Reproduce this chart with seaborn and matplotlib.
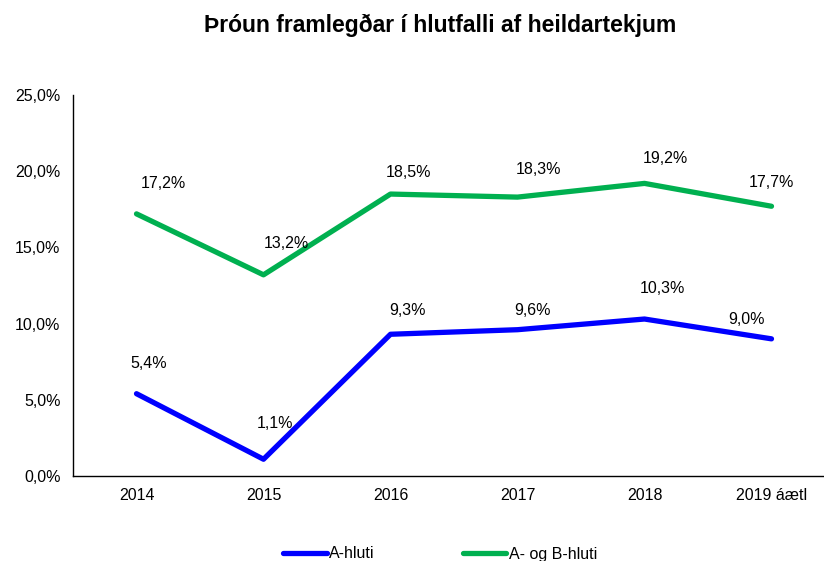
import matplotlib
matplotlib.use("Agg")
import matplotlib.pyplot as plt
import seaborn as sns
import pandas as pd
import numpy as np
from matplotlib.ticker import FixedLocator, FuncFormatter
from matplotlib.lines import Line2D

# ===================== data =====================
years = ["2014", "2015", "2016", "2017", "2018", "2019 áætl"]
a_hluti = [5.4, 1.1, 9.3, 9.6, 10.3, 9.0]
ab_hluti = [17.2, 13.2, 18.5, 18.3, 19.2, 17.7]
series_names = ["A-hluti", "A- og B-hluti"]
colors = ["#0000FF", "#00B050"]

# label nudges in pixels (style only)
a_offsets = [(12, 30), (12, 36), (17, 24), (15, 19), (18, 31), (-25, 19)]
ab_offsets = [(27, 30), (23, 31), (18, 22), (21, 28), (21, 25), (0, 24)]

df = pd.DataFrame({
    "year": years * 2,
    "value": a_hluti + ab_hluti,
    "series": [series_names[0]] * len(years) + [series_names[1]] * len(years),
})

sns.set_style("white")
plt.rcParams["font.family"] = ["Liberation Sans", "DejaVu Sans"]
plt.rcParams["text.color"] = "#000000"
plt.rcParams["xtick.color"] = "#000000"
plt.rcParams["ytick.color"] = "#000000"

fig = plt.figure(figsize=(8.24, 5.61), dpi=100)
W, H = 824, 561
ax = fig.add_axes([73 / W, 1 - 476 / H, (835 - 73) / W, (476 - 95) / H])

sns.lineplot(data=df, x="year", y="value", hue="series", palette=colors,
             linewidth=3.8, sort=False, legend=False, ax=ax)

ax.set_xlim(-0.5, len(years) - 0.5)
ax.set_ylim(0, 25)
ax.set_yticks(np.arange(0, 26, 5))
ax.yaxis.set_major_formatter(FuncFormatter(lambda v, p: f"{v:.1f}%".replace(".", ",")))
ax.set_xticks(range(len(years)))
ax.set_xticklabels(years)
ax.xaxis.set_minor_locator(FixedLocator(np.arange(-0.5, len(years), 1)))
ax.tick_params(axis="x", which="major", length=0, labelsize=11.5, pad=9)
ax.tick_params(axis="x", which="minor", length=5, width=1, color="#000000", direction="out")
ax.tick_params(axis="y", length=5, width=1, color="#000000", direction="out", labelsize=11.5, pad=4)
ax.set_xlabel("")
ax.set_ylabel("")
for s in ["top", "right"]:
    ax.spines[s].set_visible(False)
for s in ["left", "bottom"]:
    ax.spines[s].set_color("#000000")
    ax.spines[s].set_linewidth(1)

# data labels
for vals, offs in [(a_hluti, a_offsets), (ab_hluti, ab_offsets)]:
    for i, v in enumerate(vals):
        ax.annotate(f"{v:.1f}%".replace(".", ","), (i, v), xytext=offs[i],
                    textcoords="offset pixels", ha="center", va="center", fontsize=11.5)

fig.text(440 / W, 1 - 25 / H, "Þróun framlegðar í hlutfalli af heildartekjum",
         ha="center", va="center", fontsize=16.5, fontweight="bold")

handles = [Line2D([0], [0], color=c, lw=3.8) for c in colors]
fig.legend(handles, series_names, loc="center", bbox_to_anchor=(440 / W, 1 - 554 / H),
           ncol=2, frameon=False, fontsize=11.5, handlelength=2.75, handletextpad=0.15,
           columnspacing=5.5)

fig.savefig("out.png", dpi=100)
